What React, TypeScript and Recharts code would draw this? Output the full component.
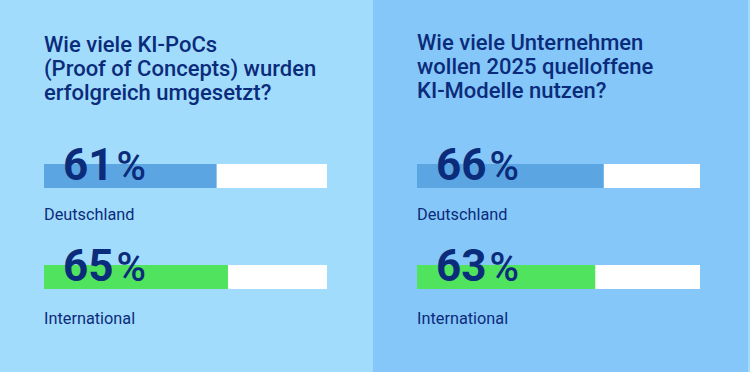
import React from "react";
import { BarChart, Bar, XAxis, YAxis, Cell, LabelList } from "recharts";

const categories = ["Deutschland", "International"];
const pocValues = [61, 65];
const openSourceValues = [66, 63];
const leftTitle = ["Wie viele KI-PoCs", "(Proof of Concepts) wurden", "erfolgreich umgesetzt?"];
const rightTitle = ["Wie viele Unternehmen", "wollen 2025 quelloffene", "KI-Modelle nutzen?"];

const barColors = ["#5ba5e2", "#4fe35e"];
const NAVY = "#0b2b7b";
const FONT = "Roboto, 'Noto Sans', sans-serif";

const makeData = (values: number[]) =>
  categories.map((name, i) => ({ name, value: values[i] }));

const PercentLabel = (props: any) => {
  const { x, y, value } = props;
  return (
    <text x={x + 19} y={y + 16} fill={NAVY} fontFamily={FONT}>
      <tspan fontSize={44} fontWeight={700}>{value}</tspan>
      <tspan fontSize={40} fontWeight={500} dx={3}>%</tspan>
    </text>
  );
};

const NameLabel = (props: any) => {
  const { x, y, height, value, index } = props;
  return (
    <text x={x} y={y + height + (index === 0 ? 32 : 35)} fill={NAVY} fontFamily={FONT} fontSize={16.3}>
      {value}
    </text>
  );
};

const Panel = ({ left, width, bg, title, values, titleTop }: any) => (
  <div style={{ position: "absolute", left, top: 0, width, height: 372, background: bg, overflow: "hidden" }}>
    <div
      style={{
        position: "absolute",
        left: 44,
        top: titleTop,
        fontFamily: FONT,
        fontSize: 22,
        fontWeight: 500,
        lineHeight: "24px",
        color: NAVY,
        whiteSpace: "nowrap",
      }}
    >
      {title.map((t: string) => (
        <div key={t}>{t}</div>
      ))}
    </div>
    <div style={{ position: "absolute", left: 0, top: 0 }}>
      <BarChart
        width={375}
        height={372}
        data={makeData(values)}
        layout="vertical"
        margin={{ top: 125, bottom: 45, left: 44, right: 48 }}
      >
        <XAxis type="number" domain={[0, 100]} hide />
        <YAxis type="category" dataKey="name" hide />
        <Bar dataKey="value" barSize={24} background={{ fill: "#ffffff" }} isAnimationActive={false}>
          {values.map((_: number, i: number) => (
            <Cell key={i} fill={barColors[i]} />
          ))}
          <LabelList dataKey="value" content={PercentLabel} />
          <LabelList dataKey="name" content={NameLabel} />
        </Bar>
      </BarChart>
    </div>
  </div>
);

export default function App() {
  return (
    <div style={{ position: "fixed", left: 0, top: 0, width: 750, height: 372, overflow: "hidden" }}>
      <Panel left={0} width={373} bg="#a2dcfc" title={leftTitle} values={pocValues} titleTop={33} />
      <Panel left={373} width={377} bg="#85c7f8" title={rightTitle} values={openSourceValues} titleTop={31} />
      <div style={{ position: "absolute", left: 748, top: 0, width: 2, height: 372, background: "#a2dcfc" }} />
    </div>
  );
}
